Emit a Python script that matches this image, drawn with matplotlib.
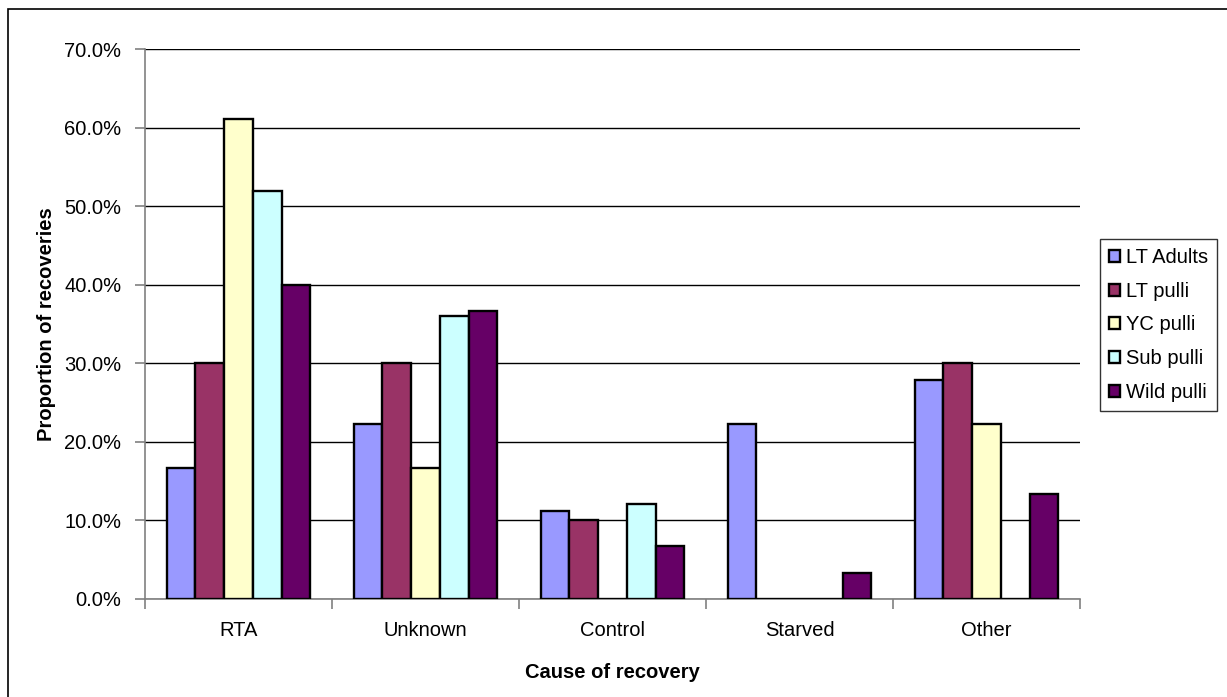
import matplotlib
matplotlib.use("Agg")
import matplotlib.pyplot as plt
from matplotlib.patches import Rectangle
from matplotlib.ticker import FixedLocator, FuncFormatter
import numpy as np

categories = ["RTA", "Unknown", "Control", "Starved", "Other"]
series_names = ["LT Adults", "LT pulli", "YC pulli", "Sub pulli", "Wild pulli"]
lt_adults = [16.7, 22.2, 11.1, 22.2, 27.8]
lt_pulli = [30.0, 30.0, 10.0, 0.0, 30.0]
yc_pulli = [61.1, 16.7, 0.0, 0.0, 22.2]
sub_pulli = [52.0, 36.0, 12.0, 0.0, 0.0]
wild_pulli = [40.0, 36.7, 6.7, 3.3, 13.3]
series_values = [lt_adults, lt_pulli, yc_pulli, sub_pulli, wild_pulli]
colors = ["#9999FF", "#993366", "#FFFFCC", "#CCFFFF", "#660066"]
y_ticks = [0, 10, 20, 30, 40, 50, 60, 70]

plt.rcParams['font.family'] = ['Liberation Sans', 'DejaVu Sans']
FS = 14.5

W, H = 1227, 697
fig = plt.figure(figsize=(W / 100, H / 100), dpi=100)
ax = fig.add_axes([145 / W, 1 - 598.5 / H, 935 / W, 549 / H])

n = len(series_names)
bw = 1 / (n + 1.5)
x = np.arange(len(categories))
for j, (name, vals, c) in enumerate(zip(series_names, series_values, colors)):
    ax.bar(x + (j - (n - 1) / 2) * bw, vals, width=bw, color=c,
           edgecolor="black", linewidth=1.7, label=name, zorder=3)

ax.set_xlim(-0.5, len(categories) - 0.5)
ax.set_ylim(0, 70)
ax.yaxis.set_major_locator(FixedLocator(y_ticks))
ax.yaxis.set_major_formatter(FuncFormatter(lambda v, p: f"{v:.1f}%"))
ax.grid(axis="y", color="black", linewidth=1.0, zorder=0)
ax.set_axisbelow(True)

ax.set_xticks(x)
ax.set_xticklabels(categories, fontsize=FS)
ax.set_xticks(np.arange(-0.5, len(categories)), minor=True)
ax.tick_params(axis="x", which="major", length=0, pad=16)
ax.tick_params(axis="x", which="minor", length=7, width=1.2, color="#808080", direction="out")
ax.tick_params(axis="y", length=7, width=1.2, color="#808080", labelsize=FS, pad=10)

for s in ["top", "right"]:
    ax.spines[s].set_visible(False)
for s in ["left", "bottom"]:
    ax.spines[s].set_color("#808080")
    ax.spines[s].set_linewidth(1.2)

fig.text(47 / W, 1 - 324 / H, "Proportion of recoveries", rotation=90,
         ha="center", va="center", fontsize=FS, fontweight="bold")
fig.text((145 + 935 / 2) / W, 1 - 672.7 / H, "Cause of recovery",
         ha="center", va="center", fontsize=FS, fontweight="bold")

leg = fig.legend(loc="upper left", bbox_to_anchor=(1100 / W, 1 - 239 / H),
                 fontsize=FS, frameon=True, fancybox=False, shadow=False,
                 handlelength=0.55, handleheight=0.55, handletextpad=0.3,
                 labelspacing=0.73, borderpad=0.45, borderaxespad=0)
leg.get_frame().set_edgecolor("black")
leg.get_frame().set_linewidth(1.0)

fig.add_artist(Rectangle((8 / W, -0.1), 2, (1 - 9 / H) + 0.1, transform=fig.transFigure,
                         fill=False, edgecolor="black", linewidth=1.2))

fig.savefig("out.png", dpi=100)
